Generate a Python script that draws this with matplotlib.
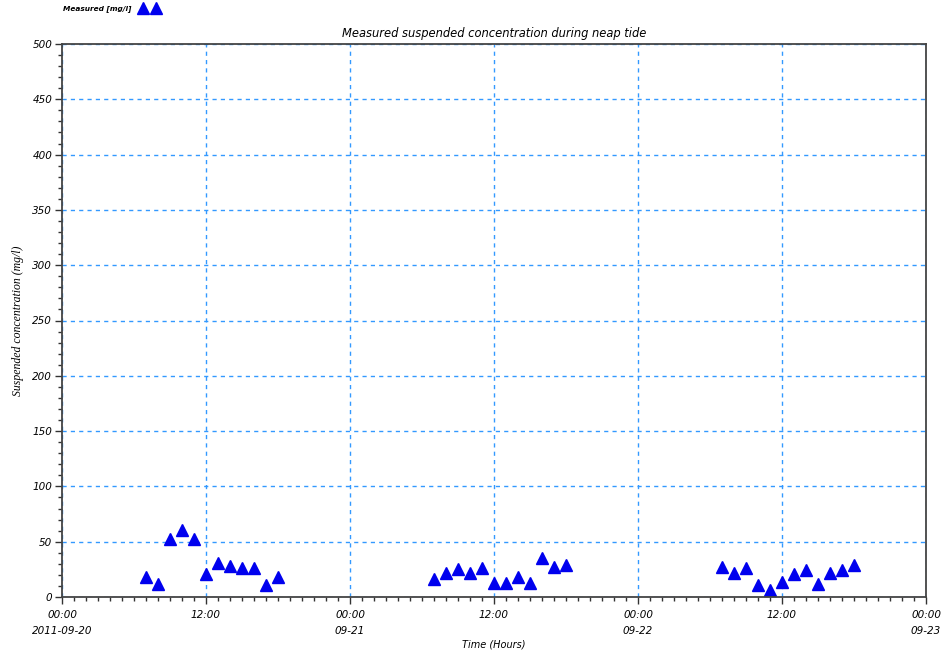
import matplotlib.pyplot as plt
import matplotlib.dates as mdates
from matplotlib.ticker import MultipleLocator
import numpy as np
from datetime import datetime, timedelta

# hourly measurements, 07:00 - 18:00 on each day
days = ['2011-09-20', '2011-09-21', '2011-09-22']
hours = list(range(7, 19))
conc_day1 = [18, 12, 52, 61, 52, 21, 31, 28, 26.5, 26.5, 11, 18.5]
conc_day2 = [16, 22, 25.5, 22, 26.5, 13, 13, 18.5, 13, 35, 27.5, 28.5]
conc_day3 = [27, 21.5, 26, 11, 6.5, 14, 21, 24, 12, 21.5, 24, 28.5]

times = []
for d in days:
    base = datetime.strptime(d, '%Y-%m-%d')
    times += [base + timedelta(hours=h) for h in hours]
conc = conc_day1 + conc_day2 + conc_day3

tick_labels = ['00:00\n2011-09-20', '12:00', '00:00\n09-21', '12:00',
               '00:00\n09-22', '12:00', '00:00\n09-23']

fig = plt.figure(figsize=(9.47, 6.54), dpi=100)
ax = fig.add_axes([62/947, 57/654, 864/947, 553/654])

ax.plot(times, conc, '^', color='#0000ee', markersize=8, linestyle='none',
        label='Measured [mg/l]')

start = datetime(2011, 9, 20)
end = datetime(2011, 9, 23)
ax.set_xlim(start, end)
ax.set_ylim(0, 500)

major = [start + timedelta(hours=12*i) for i in range(7)]
ax.set_xticks(mdates.date2num(major))
ax.set_xticklabels(tick_labels, fontsize=7.5, style='italic', linespacing=1.85)
ax.xaxis.set_minor_locator(mdates.HourLocator())
ax.yaxis.set_major_locator(MultipleLocator(50))
ax.yaxis.set_minor_locator(MultipleLocator(10))
for lab in ax.get_yticklabels():
    lab.set_fontsize(7.5)
    lab.set_style('italic')

ax.tick_params(which='major', direction='out', length=5, width=1, color='#333333', pad=2)
ax.tick_params(which='minor', direction='out', length=3, width=1, color='#333333')
ax.tick_params(axis='x', which='major', pad=4)

ax.grid(True, which='major', color='#3399ff', linestyle=(0, (3, 3)), linewidth=1)
for s in ax.spines.values():
    s.set_color('#444444')
    s.set_linewidth(1.3)

ax.set_title('Measured suspended concentration during neap tide', fontsize=8.3,
             style='italic', pad=5)
ax.set_xlabel('Time (Hours)', fontsize=7, style='italic', labelpad=2)
ax.set_ylabel('Suspended concentration (mg/l)', fontsize=8.5, style='italic',
              family='Liberation Serif', labelpad=6)

fig.legend(loc='upper left', bbox_to_anchor=(60/947, 1 - 2/654), frameon=False,
           markerfirst=False, numpoints=2,
           prop={'style': 'italic', 'size': 5.3, 'weight': 'bold'},
           handlelength=2.4, handletextpad=1.3, borderaxespad=0)

fig.savefig('out.png', dpi=100)
